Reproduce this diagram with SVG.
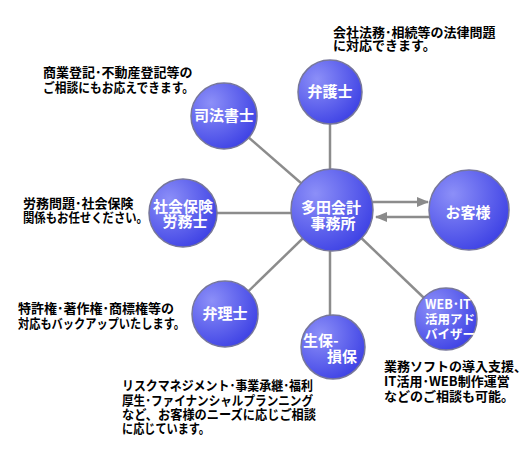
<svg xmlns="http://www.w3.org/2000/svg" width="525" height="471" viewBox="0 0 525 471">
<defs>
<radialGradient id="g" cx="0.3" cy="0.3" r="0.8">
<stop offset="0" stop-color="#8c8ff8"/>
<stop offset="1" stop-color="#3c40e4"/>
</radialGradient>
<marker id="ah" markerWidth="12" markerHeight="10" refX="11" refY="5" orient="auto" markerUnits="userSpaceOnUse">
<path d="M0,0 L12,5 L0,10 z" fill="#8a8a8a"/>
</marker>
</defs>
<style>
.n{fill:url(#g);stroke:#77779a;stroke-width:1.5}
.w{fill:#fff;font-family:"Noto Sans CJK JP",sans-serif;font-weight:bold;font-size:15px;text-anchor:middle}
.ws{fill:#fff;font-family:"Noto Sans CJK JP",sans-serif;font-weight:bold;font-size:12.5px}
.t{fill:#000;font-family:"Noto Sans CJK JP",sans-serif;font-weight:bold;font-size:13px}
.c{stroke:#8c8c8c;stroke-width:2.5;fill:none}
</style>
<rect width="525" height="471" fill="#fff"/>
<g id="connectors">
<line class="c" x1="332" y1="210" x2="224" y2="116"/>
<line class="c" x1="330" y1="210" x2="330" y2="91"/>
<line class="c" x1="332" y1="213" x2="183" y2="213"/>
<line class="c" x1="332" y1="210" x2="225" y2="314"/>
<line class="c" x1="330" y1="210" x2="330" y2="347"/>
<line class="c" x1="332" y1="210" x2="446" y2="319"/>
<line class="c" x1="373" y1="202" x2="428" y2="202" marker-end="url(#ah)"/>
<line class="c" x1="430" y1="217" x2="376" y2="217" marker-end="url(#ah)"/>
</g>
<g id="shihoshoshi">
<circle class="n" cx="224" cy="116" r="33"/>
<text class="w" x="224" y="121">司法書士</text>
</g>
<g id="bengoshi">
<circle class="n" cx="330" cy="92" r="32"/>
<text class="w" x="330" y="97">弁護士</text>
</g>
<g id="sharoshi">
<circle class="n" cx="183" cy="213" r="34"/>
<text class="w"><tspan x="183" y="212">社会保険</tspan><tspan x="185" y="227">労務士</tspan></text>
</g>
<g id="center">
<circle class="n" cx="332" cy="210" r="41"/>
<text class="w"><tspan x="331" y="213">多田会計</tspan><tspan x="333" y="229">事務所</tspan></text>
</g>
<g id="customer">
<circle class="n" cx="469" cy="210" r="40"/>
<text class="w" x="468" y="218">お客様</text>
</g>
<g id="benrishi">
<circle class="n" cx="225" cy="314" r="33"/>
<text class="w" x="225" y="319">弁理士</text>
</g>
<g id="seiho">
<circle class="n" cx="333" cy="347" r="32"/>
<text class="ws" style="font-size:15px"><tspan x="303" y="346">生保-</tspan><tspan x="327" y="362">損保</tspan></text>
</g>
<g id="web">
<circle class="n" cx="446" cy="319" r="31"/>
<text class="ws"><tspan x="425" y="309">WEB･IT</tspan><tspan x="425" y="324">活用アド</tspan><tspan x="425" y="339">バイザー</tspan></text>
</g>
<g id="texts">
<text class="t"><tspan x="43" y="77">商業登記･不動産登記等の</tspan><tspan x="43" y="92" textLength="151" lengthAdjust="spacingAndGlyphs">ご相談にもお応えできます。</tspan></text>
<text class="t"><tspan x="333" y="37">会社法務･相続等の法律問題</tspan><tspan x="333" y="50">に対応できます。</tspan></text>
<text class="t"><tspan x="23" y="208">労務問題･社会保険</tspan><tspan x="23" y="222" textLength="125" lengthAdjust="spacingAndGlyphs">関係もお任せください。</tspan></text>
<text class="t"><tspan x="18" y="313">特許権･著作権･商標権等の</tspan><tspan x="18" y="328" textLength="167" lengthAdjust="spacingAndGlyphs">対応もバックアップいたします。</tspan></text>
<text class="t"><tspan x="384" y="371">業務ソフトの導入支援、</tspan><tspan x="384" y="386">IT活用･WEB制作運営</tspan><tspan x="384" y="401">などのご相談も可能。</tspan></text>
<text class="t"><tspan x="122" y="390" textLength="191" lengthAdjust="spacingAndGlyphs">リスクマネジメント･事業承継･福利</tspan><tspan x="122" y="405" textLength="191" lengthAdjust="spacingAndGlyphs">厚生･ファイナンシャルプランニング</tspan><tspan x="122" y="419" textLength="194" lengthAdjust="spacingAndGlyphs">など、お客様のニーズに応じご相談</tspan><tspan x="122" y="433" textLength="88" lengthAdjust="spacingAndGlyphs">に応じています。</tspan></text>
</g>
</svg>
